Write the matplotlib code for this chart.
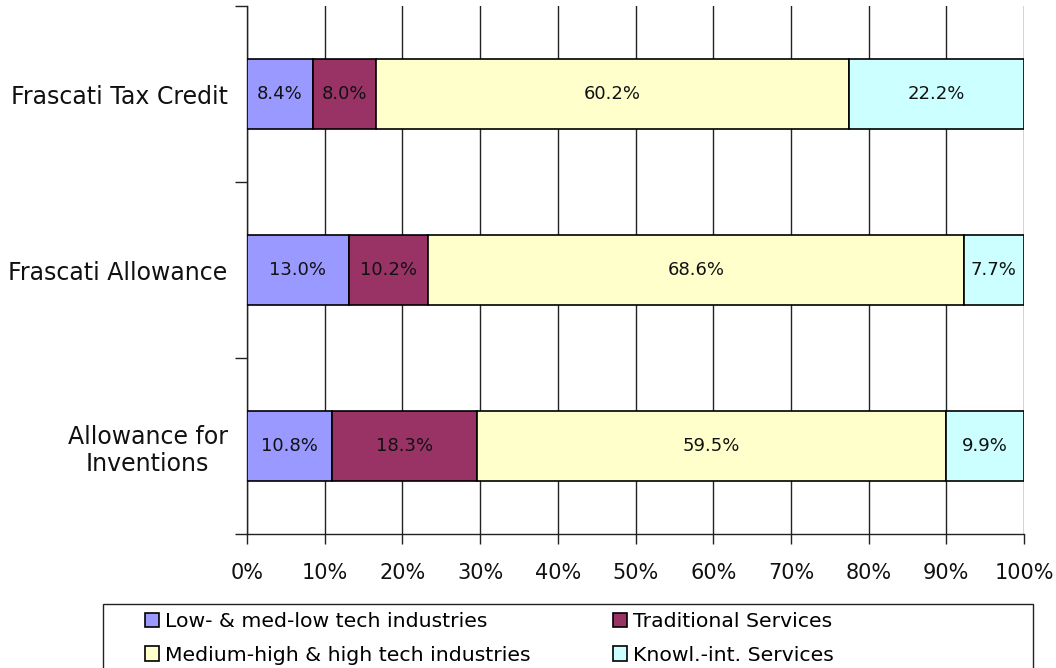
import matplotlib
matplotlib.use("Agg")
import matplotlib.pyplot as plt
import numpy as np
from matplotlib.patches import Rectangle, Patch

categories = ["Allowance for\nInventions", "Frascati Allowance", "Frascati Tax Credit"]
series_names = ["Low- & med-low tech industries", "Traditional Services",
                "Medium-high & high tech industries", "Knowl.-int. Services"]
low_tech = [10.8, 13.0, 8.4]
trad_services = [18.3, 10.2, 8.0]
high_tech = [59.5, 68.6, 60.2]
knowl_services = [9.9, 7.7, 22.2]
colors = ["#9999FF", "#993366", "#FFFFCC", "#CCFFFF"]
xticks = [0, 10, 20, 30, 40, 50, 60, 70, 80, 90, 100]

plt.rcParams['font.family'] = ['DejaVu Sans']

W, H = 1056, 668
fig = plt.figure(figsize=(W / 100, H / 100), dpi=100)
ax = fig.add_axes([247 / W, 1 - 534 / H, (1024 - 247) / W, (534 - 6) / H])

data = np.array([low_tech, trad_services, high_tech, knowl_services])
totals = data.sum(axis=0)
norm = data / totals * 100
y = np.arange(len(categories))
left = np.zeros(len(categories))
for i in range(4):
    bars = ax.barh(y, norm[i], left=left, height=0.4, color=colors[i],
                   edgecolor="black", linewidth=1.2, zorder=3)
    for j, b in enumerate(bars):
        ax.text(left[j] + norm[i][j] / 2, y[j], f"{data[i][j]:.1f}%",
                ha="center", va="center", fontsize=13, color="#111111", zorder=4)
    left += norm[i]

ax.set_xlim(0, 100)
ax.set_ylim(-0.5, 2.5)
ax.set_xticks(xticks)
ax.set_xticklabels([f"{t}%" for t in xticks], fontsize=15, color="#111111")
ax.xaxis.grid(True, color="#222222", linewidth=1.0, zorder=0)
ax.set_yticks([-0.5, 0.5, 1.5, 2.5])
ax.set_yticklabels([])
ax.set_yticks(y, minor=True)
labs = ax.set_yticklabels(categories, minor=True, fontsize=17, color="#111111")
for t in labs:
    t.set_multialignment("center")
ax.tick_params(axis="y", which="minor", length=0, pad=14)
ax.tick_params(axis="y", which="major", length=9, width=1, color="#222222")
ax.tick_params(axis="x", length=7, width=1, color="#222222", pad=14)
for s in ["top", "right"]:
    ax.spines[s].set_visible(False)
for s in ["left", "bottom"]:
    ax.spines[s].set_color("#222222")
    ax.spines[s].set_linewidth(1.0)

handles = [Patch(facecolor=c, edgecolor="black", linewidth=1.2) for c in colors]
order = [0, 2, 1, 3]
leg = fig.legend([handles[k] for k in order], [series_names[k] for k in order],
                 loc="upper left", ncol=2,
                 bbox_to_anchor=(145 / W, 1 - 612 / H), frameon=False,
                 fontsize=14.7, handlelength=0.7, handleheight=0.7,
                 handletextpad=0.3, columnspacing=4.0, labelspacing=0.72,
                 borderpad=0, borderaxespad=0)
fig.patches.append(Rectangle((103 / W, -0.01), (1033 - 103) / W, 1 - 604 / H + 0.01,
                             transform=fig.transFigure, fill=False,
                             edgecolor="#222222", linewidth=1.0))

fig.savefig("out.png", dpi=100)
